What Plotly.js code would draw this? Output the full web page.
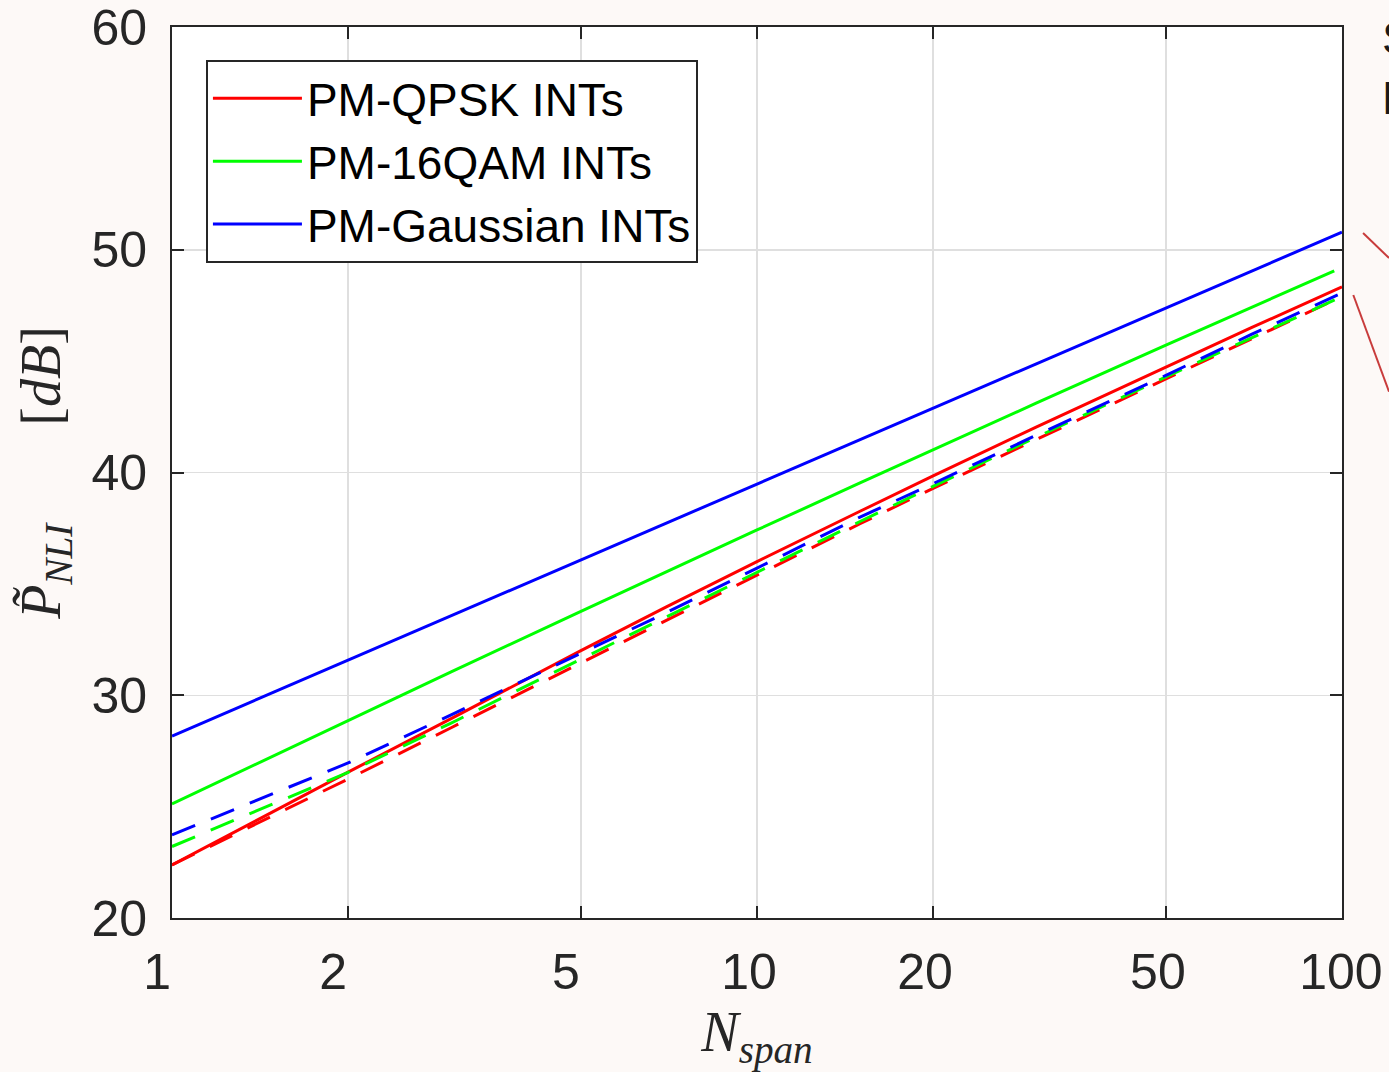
<!DOCTYPE html>
<html>
<head>
<meta charset="utf-8">
<script src="https://cdn.plot.ly/plotly-3.0.1.min.js"></script>
<style>
  html, body { margin: 0; padding: 0; background: #fdf9f7; }
  #chart { width: 1389px; height: 1072px; }
</style>
</head>
<body>
<div id="chart"></div>
<script>
// ---- data ----
const nSpan      = [1, 2, 3, 5, 7, 10, 15, 20, 30, 50, 70, 100];
const nSpanGreen = [1, 2, 3, 5, 7, 10, 15, 20, 30, 50, 70, 97];

const qpskSolid  = [22.38, 26.55, 28.95, 32.00, 33.97, 36.00, 38.26, 39.85, 42.04, 44.75, 46.50, 48.33];
const qam16Solid = [25.12, 28.88, 31.05, 33.77, 35.55, 37.42, 39.53, 41.02, 43.11, 45.72, 47.42, 49.05];
const gaussSolid = [28.17, 31.57, 33.57, 36.07, 37.73, 39.48, 41.47, 42.88, 44.88, 47.39, 49.04, 50.79];

const qpskDash   = [22.38, 26.24, 28.54, 31.45, 33.39, 35.41, 37.70, 39.29, 41.48, 44.20, 46.00, 47.90];
const qam16Dash  = [23.21, 26.54, 28.75, 31.62, 33.53, 35.53, 37.80, 39.38, 41.58, 44.29, 46.06, 47.90];
const gaussDash  = [23.73, 26.96, 29.12, 31.87, 33.71, 35.71, 38.00, 39.50, 41.67, 44.36, 46.20, 48.06];

const legendNames = ['PM-QPSK INTs', 'PM-16QAM INTs', 'PM-Gaussian INTs'];
const xTickVals = [1, 2, 5, 10, 20, 50, 100];
const xTickText = ['1', '2', '5', '10', '20', '50', '100'];
const yTickVals = [20, 30, 40, 50, 60];
const yTickText = ['20', '30', '40', '50', '60'];
const sideNotes = ['Solid lines', 'Dashed lines'];

// ---- styling ----
const RED = '#ff0000', GREEN = '#00ff00', BLUE = '#0000ff';
const AX = '#262626';
const DASH = '25px,17px';
const LW = 3;

const traces = [
  {x: nSpan, y: qpskSolid, name: legendNames[0], line: {color: RED, width: LW}},
  {x: nSpanGreen, y: qam16Solid, name: legendNames[1], line: {color: GREEN, width: LW}},
  {x: nSpan, y: gaussSolid, name: legendNames[2], line: {color: BLUE, width: LW}},
  {x: nSpan, y: qpskDash, name: legendNames[0] + ' (dashed)', showlegend: false, line: {color: RED, width: LW, dash: DASH}},
  {x: nSpan, y: qam16Dash, name: legendNames[1] + ' (dashed)', showlegend: false, line: {color: GREEN, width: LW, dash: DASH}},
  {x: nSpan, y: gaussDash, name: legendNames[2] + ' (dashed)', showlegend: false, line: {color: BLUE, width: LW, dash: DASH}}
].map(t => Object.assign({type: 'scatter', mode: 'lines', hoverinfo: 'skip'}, t));

// MATLAB-style label placement: short labels sit a little left of their tick
const xTickShown = xTickText.map(s => s.length === 1 ? s + '\u2008' : (s.length === 3 ? '\u2008' + s : s));

const tickFont = {family: 'Liberation Sans, Arial, sans-serif', size: 50, color: AX};
const titleFontFamily = 'Liberation Serif, Times New Roman, serif';
const gap = '\u00A0'.repeat(7);

const layout = {
  width: 1389, height: 1072,
  paper_bgcolor: '#fdf9f7',
  plot_bgcolor: '#ffffff',
  margin: {l: 172, r: 47, t: 27, b: 154, pad: 0},
  showlegend: true,
  xaxis: {
    type: 'log', range: [0, 2],
    tickmode: 'array', tickvals: xTickVals, ticktext: xTickShown,
    ticks: 'inside', ticklen: 12, tickwidth: 2, tickcolor: AX,
    showline: true, linecolor: AX, linewidth: 2, mirror: 'ticks',
    showgrid: true, gridcolor: '#dfdfdf', gridwidth: 1.5,
    zeroline: false,
    tickfont: tickFont,
    ticklabelshift: -8,
    ticklabelstandoff: 9,
    ticklabeloverflow: 'allow',
    title: {text: '<i>N</i><sub><i>span</i></sub>', font: {family: titleFontFamily, size: 56, color: AX}, standoff: 14}
  },
  yaxis: {
    range: [20, 60],
    tickmode: 'array', tickvals: yTickVals, ticktext: yTickText,
    ticks: 'inside', ticklen: 12, tickwidth: 2, tickcolor: AX,
    showline: true, linecolor: AX, linewidth: 2, mirror: 'ticks',
    showgrid: true, gridcolor: '#dfdfdf', gridwidth: 1.5,
    zeroline: false,
    tickfont: tickFont,
    ticklabelstandoff: 13,
    ticklabeloverflow: 'allow',
    title: {text: '<i>P\u0303</i><sub><i>NLI</i></sub>' + gap + '[<i>dB</i>]', font: {family: titleFontFamily, size: 56, color: AX}, standoff: 13}
  },
  legend: {
    x: 0.029, y: 0.963, xanchor: 'left', yanchor: 'top',
    bgcolor: '#ffffff', bordercolor: AX, borderwidth: 2,
    font: {family: 'Liberation Sans, Arial, sans-serif', size: 46, color: '#000000'},
    itemwidth: 89,
    tracegroupgap: 0
  },
  shapes: [
    {type: 'line', xref: 'paper', yref: 'paper', x0: 1.018, y0: 0.7688, x1: 1.0402, y1: 0.7407, line: {color: '#c83c3c', width: 2}},
    {type: 'line', xref: 'paper', yref: 'paper', x0: 1.00966, y0: 0.6992, x1: 1.0402, y1: 0.5907, line: {color: '#c83c3c', width: 2}}
  ],
  annotations: [
    {xref: 'paper', yref: 'paper', x: 1.0325, y: 1.019, xanchor: 'left', yanchor: 'top', align: 'left', showarrow: false,
     text: sideNotes.join('<br>'), font: {family: 'Liberation Sans, Arial, sans-serif', size: 46, color: '#1a1a1a'}}
  ]
};

Plotly.newPlot('chart', traces, layout, {displayModeBar: false, staticPlot: true});
</script>
</body>
</html>
